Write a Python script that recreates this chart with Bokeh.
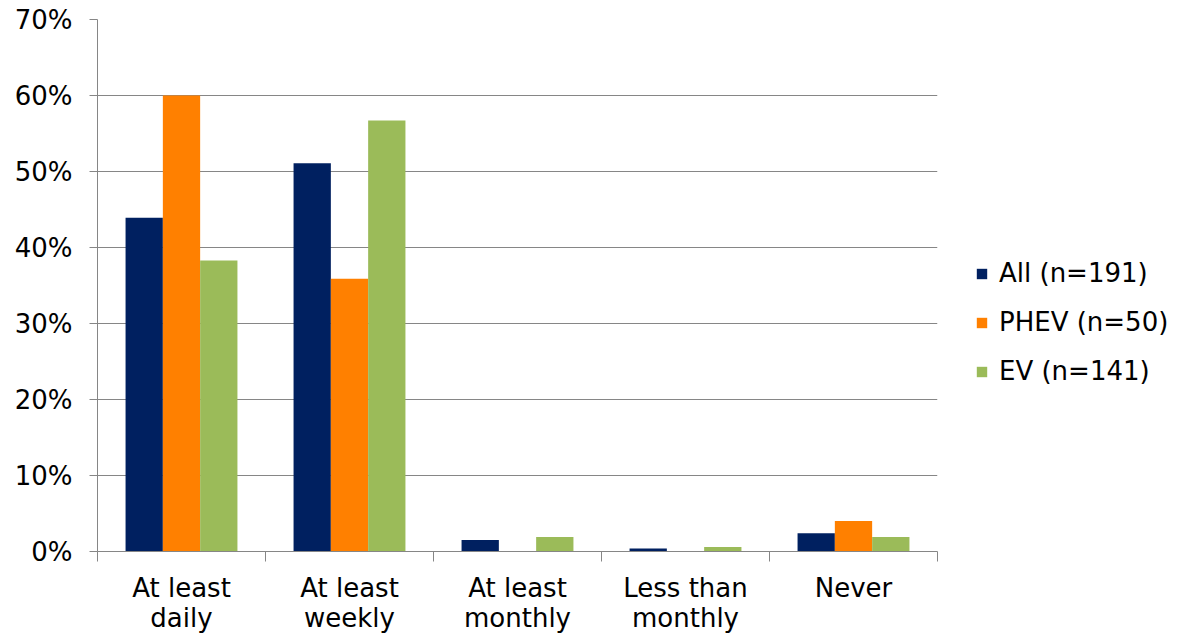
from bokeh.plotting import figure
from bokeh.models import ColumnDataSource, FixedTicker, Legend, LegendItem, Range1d, NumeralTickFormatter
from bokeh.embed import file_html
from bokeh.resources import INLINE

categories = ["At least\ndaily", "At least\nweekly", "At least\nmonthly", "Less than\nmonthly", "Never"]
series_names = ["All (n=191)", "PHEV (n=50)", "EV (n=141)"]
all_vals = [0.439, 0.511, 0.015, 0.004, 0.024]
phev_vals = [0.600, 0.359, 0.0, 0.0, 0.040]
ev_vals = [0.383, 0.567, 0.019, 0.006, 0.019]
colors = ["#002060", "#FF8000", "#9BBB59"]
y_ticks = [0, 0.1, 0.2, 0.3, 0.4, 0.5, 0.6, 0.7]

FONT = "DejaVu Sans"

p = figure(frame_width=840, frame_height=532, output_backend="svg", toolbar_location=None,
           x_range=Range1d(0, 5), y_range=Range1d(0, 0.7),
           min_border_left=97, min_border_top=19, min_border_bottom=84, min_border_right=247)
p.outline_line_color = None
p.background_fill_color = "white"

centers = [i + 0.5 for i in range(len(categories))]
bw = 0.222
offsets = [-bw, 0.0, bw]
renderers = []
for vals, off, col in zip([all_vals, phev_vals, ev_vals], offsets, colors):
    src = ColumnDataSource(dict(x=[c + off for c in centers], top=vals))
    r = p.vbar(x="x", top="top", width=bw, bottom=0, source=src, fill_color=col, line_color=None)
    renderers.append(r)

# x axis
p.xaxis.ticker = FixedTicker(ticks=centers, minor_ticks=[0, 1, 2, 3, 4, 5])
p.xaxis.major_label_overrides = {c: lab for c, lab in zip(centers, categories)}
p.xaxis.major_tick_line_color = None
p.xaxis.major_tick_out = 0
p.xaxis.major_tick_in = 0
p.xaxis.minor_tick_line_color = "#868686"
p.xaxis.minor_tick_out = 10
p.xaxis.minor_tick_in = 0
p.xaxis.axis_line_color = "#868686"
p.xaxis.major_label_text_font = FONT
p.xaxis.major_label_text_font_size = "26px"
p.xaxis.major_label_text_color = "black"
p.xaxis.major_label_text_line_height = 1.03
p.xaxis.major_label_standoff = 11
p.xgrid.grid_line_color = None

# y axis
p.yaxis.ticker = FixedTicker(ticks=y_ticks)
p.yaxis.formatter = NumeralTickFormatter(format="0%")
p.yaxis.major_tick_line_color = "#868686"
p.yaxis.major_tick_out = 8
p.yaxis.major_tick_in = 0
p.yaxis.minor_tick_line_color = None
p.yaxis.axis_line_color = "#868686"
p.yaxis.major_label_text_font = FONT
p.yaxis.major_label_text_font_size = "26px"
p.yaxis.major_label_text_color = "black"
p.yaxis.major_label_standoff = 17
p.ygrid.grid_line_color = "#868686"
p.ygrid.grid_line_width = 1

legend = Legend(items=[LegendItem(label=n, renderers=[r]) for n, r in zip(series_names, renderers)],
                location=(38, 165), orientation="vertical")
legend.label_text_font = FONT
legend.label_text_font_size = "26px"
legend.label_text_color = "black"
legend.glyph_width = 13
legend.glyph_height = 13
legend.label_height = 30
legend.spacing = 19
legend.padding = 0
legend.margin = 0
legend.label_standoff = 11
legend.border_line_color = None
legend.background_fill_alpha = 0
p.add_layout(legend, "right")

open("out.html", "w").write(file_html(p, INLINE))
